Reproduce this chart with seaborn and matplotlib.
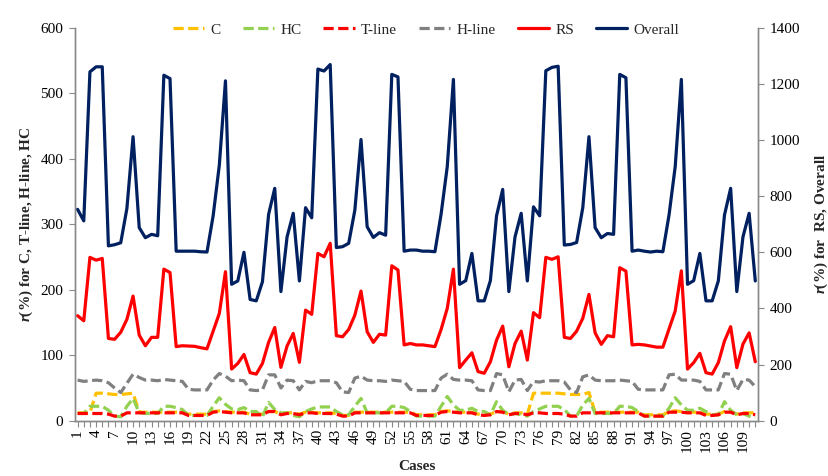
import matplotlib
matplotlib.use("Agg")
import matplotlib.pyplot as plt
import seaborn as sns
import pandas as pd

# ---- data -------------------------------------------------------------
cases = list(range(1, 112))
tick_cases = list(range(1, 112, 3))

overall = [753, 712, 1243, 1261, 1261, 623, 627, 634, 756, 1012, 688, 652, 664, 659, 1231, 1219, 604, 604, 604, 604,
           602, 601, 730, 910, 1211, 486, 498, 600, 432, 427, 495, 735, 828, 460, 655, 739, 498,
           759, 723, 1253, 1246, 1269, 617, 620, 632, 750, 1002, 691, 653, 670, 661, 1234, 1225, 604, 608, 608, 604,
           604, 602, 736, 905, 1216, 486, 499, 596, 427, 427, 499, 730, 824, 460, 655, 739, 498,
           762, 730, 1247, 1259, 1263, 626, 628, 635, 759, 1012, 688, 652, 667, 664, 1234, 1222, 604, 608, 604, 601,
           604, 602, 733, 905, 1216, 486, 499, 596, 427, 427, 498, 733, 828, 460, 655, 739, 498]

rs = [374, 356, 582, 572, 578, 293, 290, 315, 361, 444, 305, 267, 297, 297, 540, 528, 264, 267, 266, 265,
      260, 256, 319, 382, 531, 184, 204, 236, 171, 166, 204, 279, 332, 190, 266, 311, 208,
      394, 379, 596, 584, 632, 303, 299, 325, 376, 462, 317, 279, 308, 305, 552, 537, 270, 275, 270, 270,
      267, 264, 325, 400, 540, 189, 216, 242, 175, 169, 210, 287, 337, 192, 275, 319, 216,
      385, 367, 582, 575, 584, 297, 293, 319, 365, 450, 313, 272, 303, 299, 545, 533, 270, 272, 270, 266,
      262, 262, 327, 391, 534, 184, 207, 240, 171, 166, 207, 284, 335, 189, 273, 313, 210]

h_line = [62, 60, 61, 62, 61, 58, 50, 43, 57, 71, 66, 62, 62, 61, 63, 62, 61, 60, 48, 47,
          47, 47, 62, 72, 68, 61, 62, 61, 47, 46, 47, 70, 70, 50, 62, 61, 47,
          60, 58, 61, 61, 61, 58, 44, 43, 65, 68, 62, 61, 61, 60, 62, 61, 60, 48, 46, 46,
          46, 46, 65, 71, 63, 62, 62, 61, 47, 46, 46, 72, 70, 44, 62, 63, 46,
          60, 59, 61, 61, 61, 59, 47, 43, 67, 70, 62, 61, 61, 61, 62, 61, 60, 48, 47, 47,
          47, 47, 70, 71, 62, 62, 62, 60, 47, 47, 47, 72, 71, 46, 63, 62, 52]

hc = [11, 11, 22, 22, 22, 16, 7, 6, 22, 34, 12, 11, 11, 11, 22, 22, 20, 17, 8, 8,
      8, 8, 22, 35, 25, 18, 17, 20, 14, 14, 6, 28, 17, 12, 12, 8, 6,
      14, 18, 21, 21, 21, 14, 9, 9, 22, 34, 12, 12, 12, 12, 22, 22, 20, 14, 7, 7,
      7, 7, 22, 37, 24, 16, 16, 19, 14, 14, 9, 29, 16, 9, 11, 9, 7,
      14, 18, 22, 22, 22, 17, 7, 7, 24, 34, 11, 11, 11, 11, 22, 22, 20, 14, 7, 7,
      7, 7, 19, 35, 24, 16, 16, 19, 14, 9, 9, 29, 16, 9, 11, 7, 5]

t_line = [11, 11, 11, 11, 11, 10, 7, 7, 12, 12, 12, 12, 12, 12, 12, 12, 12, 12, 8, 8,
          8, 8, 13, 14, 13, 12, 12, 12, 9, 9, 9, 14, 14, 9, 11, 11, 9,
          12, 12, 11, 11, 11, 10, 7, 7, 12, 12, 12, 12, 12, 12, 12, 12, 12, 12, 8, 8,
          8, 8, 13, 14, 13, 12, 12, 12, 9, 8, 9, 14, 13, 9, 11, 11, 9,
          12, 12, 11, 11, 11, 10, 7, 7, 12, 12, 12, 12, 12, 12, 12, 12, 12, 12, 7, 7,
          7, 7, 13, 13, 13, 12, 12, 12, 8, 8, 9, 13, 13, 9, 11, 11, 9]

c_val = [12, 12, 12, 42, 42, 41, 40, 40, 41, 42, 13, 13, 13, 13, 13, 13, 13, 13, 10, 10,
         10, 10, 14, 15, 14, 13, 13, 13, 10, 10, 10, 14, 14, 10, 12, 12, 10,
         13, 13, 12, 12, 12, 11, 8, 8, 13, 13, 13, 13, 13, 13, 13, 13, 13, 13, 9, 9,
         9, 9, 14, 15, 14, 13, 13, 13, 10, 10, 10, 14, 14, 10, 12, 12, 10,
         42, 42, 42, 42, 42, 41, 40, 40, 40, 43, 13, 13, 13, 13, 13, 13, 13, 13, 9, 9,
         9, 9, 14, 15, 14, 13, 13, 13, 10, 10, 10, 14, 14, 10, 12, 12, 12]

df = pd.DataFrame({"case": cases, "C": c_val, "HC": hc, "T-line": t_line,
                   "H-line": h_line, "RS": rs, "Overall": overall})

# ---- style ------------------------------------------------------------
sns.set_theme(style="white")
plt.rcParams["font.family"] = ["Liberation Serif", "DejaVu Serif"]
plt.rcParams["mathtext.fontset"] = "custom"
plt.rcParams["mathtext.it"] = "Liberation Serif:italic:bold"
plt.rcParams["mathtext.rm"] = "Liberation Serif:bold"

FS = 11
SPINE = "#898989"
dash = (0, (3.2, 1.4))
lw = 2.3

fig = plt.figure(figsize=(8.29, 4.76), dpi=100)
ax = fig.add_axes([0.0899, 0.1162, 0.8249, 0.8254])
ax2 = ax.twinx()

left_series = [("C", "#FFC000"), ("HC", "#92D050"), ("T-line", "#FF0000"), ("H-line", "#808080")]
for name, col in left_series:
    sns.lineplot(data=df, x="case", y=name, ax=ax, color=col, linewidth=lw,
                 linestyle=dash, label=name, legend=False)

sns.lineplot(data=df, x="case", y="RS", ax=ax2, color="#FF0000", linewidth=lw,
             label="RS", legend=False)
sns.lineplot(data=df, x="case", y="Overall", ax=ax2, color="#002060", linewidth=lw,
             label="Overall", legend=False)

# ---- axes -------------------------------------------------------------
ax.set_xlim(0.5, 111.5)
ax.set_ylim(0, 600)
ax2.set_ylim(0, 1400)
ax.set_yticks(range(0, 601, 100))
ax2.set_yticks(range(0, 1401, 200))
ax.set_xticks(tick_cases)
ax.set_xticklabels([str(v) for v in tick_cases], rotation=90, fontsize=FS)
ax.set_xticks(cases, minor=True)

for a in (ax, ax2):
    a.spines["top"].set_visible(False)
    for s in ("left", "right", "bottom"):
        a.spines[s].set_color(SPINE)
        a.spines[s].set_linewidth(1.0)
    a.tick_params(axis="both", which="both", colors=SPINE, labelcolor="black",
                  labelsize=FS, length=4, width=0.8, direction="out")
    a.grid(False)

ax.tick_params(axis="x", which="both", bottom=True, pad=2)
ax.tick_params(axis="y", left=True, pad=4)
ax2.tick_params(axis="y", right=True, pad=4)

ax.set_xlabel("Cases", fontsize=FS, fontweight="bold", labelpad=6)
ax.set_ylabel("$r$(%) for C, T-line, H-line, HC", fontsize=FS, fontweight="bold", labelpad=4)
ax2.set_ylabel("$r$(%) for  RS, Overall", fontsize=FS, fontweight="bold", labelpad=9)

# ---- legend -----------------------------------------------------------
h1, l1 = ax.get_legend_handles_labels()
h2, l2 = ax2.get_legend_handles_labels()
fig.legend(h1 + h2, l1 + l2, loc="center", bbox_to_anchor=(0.514, 0.937), ncol=6,
           frameon=False, fontsize=FS, handlelength=2.05, handletextpad=0.4,
           columnspacing=1.45)

fig.savefig("out.png", dpi=100)
